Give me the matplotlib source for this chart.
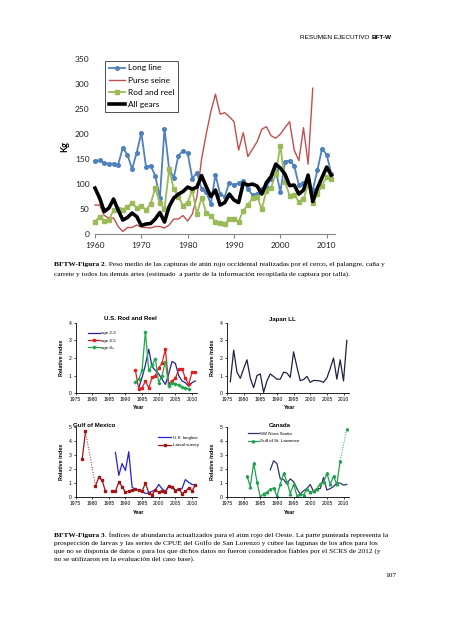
import matplotlib
matplotlib.use('Agg')
import matplotlib.pyplot as plt
import numpy as np

# ---------------- DATA ----------------
years_main = list(range(1960, 2012))
long_line = [146, 148, 142, 141, 141, 139, 173, 159, 130, 163,
             203, 135, 137, 117, 72, 211, 130, 113, 157, 167,
             162, 111, 123, 90, 85, 60, 119, 80, 75, 103,
             98, 102, 106, 90, 78, 80, 90, 95, 110, 128,
             84, 145, 147, 137, 98, 103, 105, 88, 128, 171,
             159, 121]
purse_seine = [58, 58, 37, 32, 32, 15, 5, 13, 13, 18,
               14, 13, 12, 15, 15, 12, 18, 30, 30, 37,
               26, 40, 75, 150, 200, 245, 280, 240, 243, 235,
               225, 168, 203, 155, 170, 185, 210, 215, 197, 192,
               200, 213, 225, 168, 147, 213, 140, 292, np.nan, np.nan,
               np.nan, np.nan]
rod_reel = [25, 35, 27, 28, 48, 50, 49, 55, 62, 52,
            57, 48, 60, 92, 62, 50, 130, 90, 75, 57,
            63, 88, 40, 73, 43, 37, 25, 22, 20, 30,
            30, 25, 47, 58, 72, 75, 50, 87, 93, 120,
            177, 105, 77, 79, 65, 70, 100, 62, 80, 97,
            115, 110]
all_gears = [92, 72, 45, 52, 70, 48, 28, 33, 42, 35,
             17, 20, 21, 30, 43, 24, 55, 72, 80, 85,
             94, 90, 94, 117, 95, 75, 88, 58, 63, 80,
             68, 63, 102, 98, 100, 96, 80, 103, 115, 140,
             132, 120, 97, 98, 80, 88, 118, 65, 92, 113,
             134, 118]
main_labels = ['Long line', 'Purse seine', 'Rod and reel', 'All gears']

# U.S. Rod and Reel
years_rr = list(range(1993, 2012))
age23 = [np.nan, 0.3, 0.9, 1.6, 2.5, 1.5, 1.3, 1.1, 0.8, 0.5, 1.1, 1.8, 1.7, 1.0, 0.7, 0.6, 0.4, 0.6, 0.7]
age45 = [1.3, 0.25, 0.3, 0.7, 0.3, 0.9, 1.0, 1.45, 1.7, 2.5, 0.55, 0.7, 0.85, 1.35, 1.4, 0.85, 0.5, 1.2, 1.2]
age8p = [0.65, 0.8, 1.3, 3.5, 1.3, 1.6, 1.95, 0.6, 1.0, 1.8, 0.4, 0.6, 0.55, 0.45, 0.35, 0.3, 0.25, np.nan, np.nan]
rr_labels = ['age 2-3', 'age 4-5', 'age 8+']

# Japan LL
years_jp = list(range(1976, 2012))
japan_ll = [0.65, 2.45, 1.2, 0.85, 1.4, 1.9, 0.85, 0.32, 1.0, 1.1,
            0.05, 0.7, 1.1, 0.95, 0.8, 0.8, 1.2, 1.15, 0.9, 2.35,
            1.5, 0.72, 0.78, 0.96, 0.62, 0.73, 0.72, 0.7, 0.62, 0.87,
            1.4, 2.0, 0.8, 1.9, 0.7, 3.0]

# Gulf of Mexico
years_gom = list(range(1977, 2012))
larval = [2.7, 4.7, np.nan, np.nan, 0.8, 1.4, 1.2, 0.4, np.nan,
          0.45, 0.4, 1.05, 0.75, 0.35, 0.4, 0.5, 0.55, 0.5, 0.4,
          1.0, 0.3, 0.15, 0.5, 0.35, 0.45, 0.35, 0.8, 0.7, 0.45,
          0.6, 0.25, 0.4, 0.65, 0.45, 0.85]
years_usll = list(range(1987, 2012))
us_longline = [3.2, 1.55, 2.4, 1.9, 3.25, 0.7, 0.55, 0.5, 0.4, 0.25,
               0.3, 0.4, 0.5, 0.9, 0.6, 0.4, 0.75, 0.75, 0.5, 0.5,
               0.6, 1.25, 1.05, 0.9, 0.85]
gom_labels = ['U.S. longline', 'Larval survey']

# Canada
years_gsl = list(range(1981, 2012))
gsl = [1.5, 0.75, 2.45, 1.1, 0.0, 0.25, 0.35, 0.55, 0.65, 0.05,
       0.9, 1.7, 1.1, 0.25, 0.9, 0.1, 0.2, 0.15, 0.55, 0.35,
       0.4, 0.6, 0.95, 1.05, 1.7, 0.9, 1.5, 0.9, 2.6, np.nan, 4.9]
years_swns = list(range(1988, 2012))
swns = [1.95, 2.6, 2.4, 1.3, 1.25, 0.95, 1.3, 1.1, 0.6, 0.2,
        0.45, 0.6, 0.9, 0.4, 0.6, 0.6, 1.4, 0.5, 0.6, 0.75,
        1.0, 1.0, 0.85, 0.9]
can_labels = ['SW Nova Scotia', 'Gulf of St. Lawrence']

# ---------------- FIGURE ----------------
W, H = 452, 640
fig = plt.figure(figsize=(W / 100, H / 100), dpi=100)
fig.patch.set_facecolor('white')
SANS = 'Liberation Sans'
SERIF = 'Liberation Serif'
CAL = 'Lato'


def ax_px(l, t, r, b):
    return fig.add_axes([l / W, 1 - b / H, (r - l) / W, (b - t) / H])


def fx(x):
    return x / W


def fy(y):
    return 1 - y / H


# ---- top chart ----
ax = ax_px(95, 59.3, 335, 234)
ax.plot(years_main, long_line, color='#4F81BD', lw=1.3, marker='o', ms=2.6, label=main_labels[0], clip_on=False)
ax.plot(years_main, purse_seine, color='#C0504D', lw=1.0, label=main_labels[1], clip_on=False)
ax.plot(years_main, rod_reel, color='#9BBB59', lw=1.3, marker='s', ms=2.4, label=main_labels[2], clip_on=False)
ax.plot(years_main, all_gears, color='black', lw=2.6, label=main_labels[3], clip_on=False)
ax.set_xlim(1960, 2011.8)
ax.set_ylim(0, 350)
ax.set_yticks(range(0, 351, 50))
ax.set_xticks(range(1960, 2011, 10))
for s in ['left', 'top', 'right']:
    ax.spines[s].set_visible(False)
ax.spines['bottom'].set_color('#868686')
ax.spines['bottom'].set_linewidth(0.8)
ax.tick_params(axis='y', length=0, pad=4, labelsize=6)
ax.tick_params(axis='x', length=3, color='#868686', direction='out', pad=3, labelsize=6)
for lab in ax.get_xticklabels() + ax.get_yticklabels():
    lab.set_family(CAL)
    lab.set_color('#202020')
fig.text(fx(65), fy(146.7), 'Kg', rotation=90, fontsize=6.5, fontweight='bold', family=CAL,
         ha='center', va='center')
leg = ax.legend(loc='upper left', bbox_to_anchor=(fx(105), fy(60.7)), bbox_transform=fig.transFigure,
                frameon=True, fancybox=False, edgecolor='black', prop={'family': CAL, 'size': 6},
                handlelength=2.0, handletextpad=0.3, labelspacing=0.62, borderpad=0.45, borderaxespad=0)
leg.get_frame().set_linewidth(0.6)


# ---- bottom panels ----
def panel(l, t, r, b, ymax, year_dy):
    a = ax_px(l, t, r, b)
    a.set_xlim(1975, 2011.5)
    a.set_ylim(0, ymax)
    a.set_xticks(range(1975, 2011, 5))
    a.set_yticks(range(0, ymax + 1))
    for s in ['top', 'right']:
        a.spines[s].set_visible(False)
    for s in ['left', 'bottom']:
        a.spines[s].set_linewidth(0.6)
    a.tick_params(labelsize=3.6, length=1.5, width=0.5, pad=1.5)
    for lab in a.get_xticklabels() + a.get_yticklabels():
        lab.set_family(SANS)
    fig.text(fx(l - 14), fy((t + b) / 2), 'Relative index', rotation=90, fontsize=3.9,
             fontweight='bold', family=SANS, ha='center', va='center')
    fig.text(fx((l + r) / 2 + 2), fy(b + year_dy), 'Year', fontsize=3.9, fontweight='bold',
             family=SANS, ha='center', va='center')
    return a


L1, R1, L2, R2 = 75.5, 197, 227, 348.5
T1, B1, T2, B2 = 322.7, 393.3, 427.3, 497.0

a1 = panel(L1, T1, R1, B1, 4, 14)
c23, c45, c8 = '#24249A', '#E02020', '#20A850'
a1.plot(years_rr, age23, color=c23, lw=0.9, label=rr_labels[0])
a1.plot(years_rr, age45, color=c45, lw=0.9, marker='s', ms=1.6, label=rr_labels[1])
a1.plot(years_rr, age8p, color=c8, lw=0.9, marker='D', ms=1.4, label=rr_labels[2])
fig.text(fx(130), fy(319), 'U.S. Rod and Reel', fontsize=4.4, fontweight='bold', family=SANS,
         ha='center', va='center')
a1.legend(loc='upper left', bbox_to_anchor=(fx(88), fy(331)), bbox_transform=fig.transFigure,
          frameon=False, prop={'family': SANS, 'size': 3.2}, handlelength=2.6, handletextpad=0.3,
          labelspacing=0.75, borderpad=0, borderaxespad=0)

a2 = panel(L2, T1, R2, B1, 4, 14)
a2.plot(years_jp, japan_ll, color='#1C2440', lw=0.9)
fig.text(fx(282), fy(320), 'Japan LL', fontsize=4.4, fontweight='bold', family=SANS,
         ha='center', va='center')

a3 = panel(L1, T2, R1, B2, 5, 16)
a3.plot(years_usll, us_longline, color='#2222D0', lw=0.9, label=gom_labels[0])
a3.plot(years_gom, larval, color='#A01515', lw=0.9, marker='s', ms=1.6, label=gom_labels[1])
i1, i2 = years_gom.index(1978), years_gom.index(1981)
a3.plot([years_gom[i1], years_gom[i2]], [larval[i1], larval[i2]], color='#A01515', lw=0.7, ls=':')
fig.text(fx(94), fy(425.7), 'Gulf of Mexico', fontsize=4.4, fontweight='bold', family=SANS,
         ha='center', va='center')
a3.legend(loc='upper left', bbox_to_anchor=(fx(158), fy(435.5)), bbox_transform=fig.transFigure,
          frameon=False, prop={'family': SANS, 'size': 3.2}, handlelength=3.0, handletextpad=0.3,
          labelspacing=0.75, borderpad=0, borderaxespad=0)

a4 = panel(L2, T2, R2, B2, 5, 16)
a4.plot(years_swns, swns, color='#2E3560', lw=0.9, label=can_labels[0])
a4.plot(years_gsl, gsl, color='#20A050', lw=0.9, marker='^', ms=1.8, label=can_labels[1])
j1, j2 = years_gsl.index(2009), years_gsl.index(2011)
a4.plot([years_gsl[j1], years_gsl[j2]], [gsl[j1], gsl[j2]], color='#20A050', lw=0.7, ls=':')
fig.text(fx(280), fy(425.7), 'Canada', fontsize=4.4, fontweight='bold', family=SANS,
         ha='center', va='center')
a4.legend(loc='upper left', bbox_to_anchor=(fx(248), fy(431.5)), bbox_transform=fig.transFigure,
          frameon=False, prop={'family': SANS, 'size': 3.2}, handlelength=2.4, handletextpad=0.3,
          labelspacing=0.75, borderpad=0, borderaxespad=0)

# ---------------- TEXT ----------------
renderer = fig.canvas.get_renderer()


def raw(s, fs, wt='normal', fam=SERIF):
    t = fig.text(0, 0, s, fontsize=fs, family=fam, weight=wt)
    w = t.get_window_extent(renderer).width
    t.remove()
    return w


def measure(s, fs, wt='normal', fam=SERIF):
    if not s:
        return 0.0
    return raw('x' + s + 'x', fs, wt, fam) - raw('xx', fs, wt, fam)


def draw_plain(line, x0, y, fs, bold=None, fam=SERIF):
    x = x0
    if bold:
        fig.text(fx(x), fy(y), bold, fontsize=fs, family=fam, weight='bold', va='baseline', ha='left')
        x += measure(bold, fs, 'bold', fam)
        line = line[len(bold):]
    fig.text(fx(x), fy(y), line, fontsize=fs, family=fam, va='baseline', ha='left')


cap2 = ['BFTW-Figura 2. Peso medio de las capturas de atún rojo occidental realizadas por el cerco, el palangre, caña y',
        'carrete y todos los demás artes (estimado  a partir de la información recopilada de captura por talla).']
cap3 = ['BFTW-Figura 3. Índices de abundancia actualizados para el atún rojo del Oeste. La parte punteada representa la',
        'prospección de larvas y las series de CPUE del Golfo de San Lorenzo y cubre las lagunas de los años para los',
        'que no se disponía de datos o para los que dichos datos no fueron considerados fiables por el SCRS de 2012 (y',
        'no se utilizaron en la evaluación del caso base).']

B2LBL, B3LBL = 'BFTW-Figura 2', 'BFTW-Figura 3'
w1 = measure(B2LBL, 6.0, 'bold') + measure(cap2[0][len(B2LBL):], 6.0)
FS = 6.0 * 334 / w1

draw_plain(cap2[0], 54, 266, FS, bold=B2LBL)
draw_plain(cap2[1], 54, 275.5, FS)

y0 = 536.5
for k, line in enumerate(cap3):
    draw_plain(line, 54, y0 + k * 8.2, FS, bold=B3LBL if k == 0 else None)

fig.text(fx(396), fy(577), '107', fontsize=FS, family=SERIF, ha='right', va='baseline')

# header
HFS = 4.6
HY = 39
hw_norm = measure('RESUMEN EJECUTIVO ', HFS, 'normal', SANS)
hw = hw_norm + measure('BFT-W', HFS, 'bold', SANS)
x_head = 391 - hw
fig.text(fx(x_head), fy(HY), 'RESUMEN EJECUTIVO', fontsize=HFS, family=SANS, ha='left', va='baseline')
fig.text(fx(x_head + hw_norm + 0.8), fy(HY), 'BFT-W', fontsize=HFS, fontweight='bold', family=SANS,
         ha='left', va='baseline')

fig.savefig('out.png', dpi=100, facecolor='white')
